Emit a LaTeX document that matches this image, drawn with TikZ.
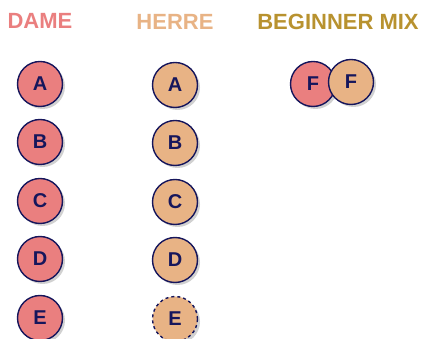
\documentclass[tikz,border=0pt]{standalone}
\usepackage{fontspec}
\setmainfont{Liberation Sans}
\usetikzlibrary{shadows}
\definecolor{damecol}{HTML}{EA7F7F}
\definecolor{herrecol}{HTML}{E8B385}
\definecolor{mixcol}{HTML}{B8922F}
\definecolor{navy}{HTML}{16165C}
\tikzset{
  x=1pt,y=1pt,
  title/.style={font=\fontsize{22}{24}\selectfont\bfseries, inner sep=0pt},
  dancer/.style={circle, draw=navy, line width=1.4pt, minimum size=45pt, inner sep=0pt,
    text=navy, font=\fontsize{20}{22}\selectfont\bfseries,
    drop shadow={shadow xshift=2.5pt, shadow yshift=-2.5pt, opacity=0.3, fill=black!60}},
  dame/.style={dancer, fill=damecol},
  herre/.style={dancer, fill=herrecol},
}
\begin{document}
\begin{tikzpicture}
\useasboundingbox (0,0) rectangle (422,339);
\node[title, text=damecol] (tdame) at (40,318) {DAME};
\node[title, text=herrecol] (therre) at (175,317) {HERRE};
\node[title, text=mixcol] (tmix) at (338,317) {BEGINNER MIX};
\foreach \l/\y in {A/255,B/197,C/138,D/80,E/21} {
  \node[dame] (d\l) at (40,\y) {\l};
}
\foreach \l/\y in {A/254,B/196,C/137,D/79} {
  \node[herre] (h\l) at (175,\y) {\l};
}
\node[herre, dashed] (hE) at (175,20) {E};
\node[dame] (mF1) at (313,255) {F};
\node[herre] (mF2) at (351,257) {F};
\end{tikzpicture}
\end{document}
